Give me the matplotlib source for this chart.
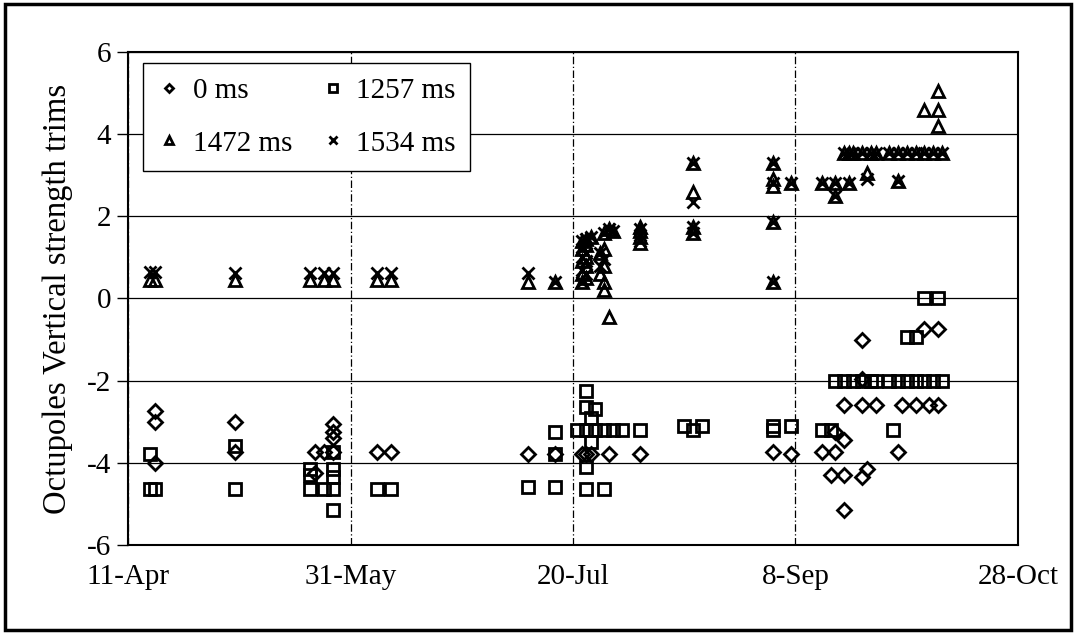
import matplotlib.pyplot as plt
import matplotlib.patches as mpatches
import pandas as pd

plt.rcParams['font.family'] = ['Liberation Serif', 'DejaVu Serif']
plt.rcParams['axes.unicode_minus'] = False

# x axis ticks
tick_dates = ['2000-04-11', '2000-05-31', '2000-07-20', '2000-09-08', '2000-10-28']
tick_labels = ['11-Apr', '31-May', '20-Jul', '8-Sep', '28-Oct']

# 0 ms (diamonds)
d0_dates = ['04-17', '04-17', '04-17', '05-05', '05-05', '05-23', '05-23', '05-25',
            '05-27', '05-27', '05-27', '05-27', '06-06', '06-09', '07-10', '07-16',
            '07-22', '07-23', '07-24', '07-28', '08-04', '09-03', '09-07',
            '09-14', '09-17', '09-17', '09-19', '09-16', '09-19', '09-19',
            '09-23', '09-23', '09-19', '09-23', '09-26', '09-24', '09-23',
            '10-01', '10-02', '10-05', '10-08', '10-10', '10-07', '10-10']
d0_vals = [-2.75, -3.0, -4.0, -3.0, -3.75, -3.75, -4.25, -3.75,
           -3.05, -3.25, -3.4, -3.75, -3.75, -3.75, -3.8, -3.8,
           -3.8, -3.8, -3.8, -3.8, -3.8, -3.75, -3.8,
           -3.75, -3.75, -3.25, -3.45, -4.3, -4.3, -5.15,
           -1.0, -1.95, -2.6, -2.6, -2.6, -4.15, -4.35,
           -3.75, -2.6, -2.6, -2.6, -2.6, -0.75, -0.75]

# 1257 ms (squares)
d1257_dates = ['04-16', '04-16', '04-17', '05-05', '05-05', '05-22', '05-22', '05-22',
               '05-25', '05-27', '05-27', '05-27', '05-27', '05-27', '06-06', '06-09',
               '07-10', '07-16', '07-16', '07-16', '07-23', '07-23', '07-25', '07-24',
               '07-21', '07-23', '07-25', '07-27', '07-29', '07-31', '07-24', '07-23',
               '07-23', '07-27', '08-04', '08-14', '08-16', '08-18', '09-03', '09-03',
               '09-07', '09-14', '09-16', '09-17', '09-19', '09-21', '09-23', '09-25',
               '09-26', '09-29', '10-01', '10-03', '10-05', '10-07', '10-09', '10-11',
               '09-30', '10-03', '10-05', '10-07', '10-10']
d1257_vals = [-3.8, -4.65, -4.65, -3.6, -4.65, -4.15, -4.3, -4.65,
              -4.65, -3.75, -4.15, -4.35, -4.65, -5.15, -4.65, -4.65,
              -4.6, -3.25, -3.8, -4.6, -2.25, -2.65, -2.7, -2.9,
              -3.2, -3.2, -3.2, -3.2, -3.2, -3.2, -3.5, -4.1,
              -4.65, -4.65, -3.2, -3.1, -3.2, -3.1, -3.1, -3.2,
              -3.1, -3.2, -3.2, -2.0, -2.0, -2.0, -2.0, -2.0,
              -2.0, -2.0, -2.0, -2.0, -2.0, -2.0, -2.0, -2.0,
              -3.2, -0.95, -0.95, 0.0, 0.0]

# 1472 ms (triangles)
d1472_dates = ['04-16', '04-17', '05-05', '05-22', '05-25', '05-27', '06-06', '06-09',
               '07-10', '07-16', '07-22', '07-22', '07-22', '07-22', '07-22',
               '07-23', '07-23', '07-23', '07-23', '07-23', '07-24', '07-26', '07-26',
               '07-27', '07-27', '07-27', '07-27', '07-27', '07-28', '07-28', '07-29',
               '08-04', '08-04', '08-04', '08-04', '08-16', '08-16', '08-16', '08-16',
               '09-03', '09-03', '09-03', '09-03', '09-03', '09-07', '09-14', '09-17',
               '09-17', '09-20', '09-19', '09-20', '09-21', '09-23', '09-25', '09-26',
               '09-29', '10-01', '10-03', '10-05', '10-07', '10-09', '10-11',
               '09-24', '10-01', '10-10', '10-10', '10-10', '10-07']
d1472_vals = [0.45, 0.45, 0.45, 0.45, 0.45, 0.45, 0.45, 0.45,
              0.4, 0.4, 0.4, 0.6, 0.9, 1.2, 1.4,
              0.5, 0.8, 1.0, 1.3, 1.45, 1.5, 0.6, 1.1,
              0.2, 0.4, 0.8, 1.2, 1.6, -0.45, 1.7, 1.65,
              1.35, 1.5, 1.65, 1.75, 1.6, 1.75, 2.6, 3.3,
              0.4, 1.85, 2.75, 2.9, 3.3, 2.8, 2.8, 2.5,
              2.8, 2.8, 3.55, 3.55, 3.55, 3.55, 3.55, 3.55,
              3.55, 3.55, 3.55, 3.55, 3.55, 3.55, 3.55,
              3.05, 2.85, 5.05, 4.6, 4.2, 4.6]

# 1534 ms (crosses)
d1534_dates = ['04-16', '04-17', '05-05', '05-22', '05-25', '05-27', '06-06', '06-09',
               '07-10', '07-16', '07-22', '07-22', '07-22', '07-22', '07-22',
               '07-23', '07-23', '07-23', '07-23', '07-24', '07-26', '07-26',
               '07-27', '07-27', '07-28', '07-29',
               '08-04', '08-04', '08-04', '08-16', '08-16', '08-16', '08-16',
               '09-03', '09-03', '09-03', '09-03', '09-07', '09-14', '09-17',
               '09-17', '09-20', '09-19', '09-20', '09-21', '09-23', '09-25', '09-26',
               '09-29', '10-01', '10-03', '10-05', '10-07', '10-09', '10-11',
               '09-24', '10-01']
d1534_vals = [0.65, 0.65, 0.62, 0.62, 0.62, 0.62, 0.62, 0.62,
              0.62, 0.4, 0.4, 0.7, 1.0, 1.2, 1.4,
              0.6, 0.9, 1.1, 1.45, 1.5, 0.8, 1.1,
              0.95, 1.6, 1.7, 1.65,
              1.4, 1.55, 1.7, 1.6, 1.75, 2.35, 3.3,
              0.4, 1.85, 2.8, 3.3, 2.8, 2.8, 2.5,
              2.8, 2.8, 3.55, 3.55, 3.55, 3.55, 3.55, 3.55,
              3.55, 3.55, 3.55, 3.55, 3.55, 3.55, 3.55,
              2.9, 2.85]

series = [
    ('0 ms', d0_dates, d0_vals, 'D', 7),
    ('1257 ms', d1257_dates, d1257_vals, 's', 8.5),
    ('1472 ms', d1472_dates, d1472_vals, '^', 9),
    ('1534 ms', d1534_dates, d1534_vals, 'x', 8.5),
]

fig = plt.figure(figsize=(10.76, 6.35), dpi=100)
ax = fig.add_axes([0.119, 0.142, 0.827, 0.776])

handles = []
for name, dates, vals, mk, ms in series:
    x = pd.to_datetime(['2000-' + d for d in dates])
    h, = ax.plot(x, vals, linestyle='none', marker=mk, markersize=ms,
                 markerfacecolor='none', markeredgecolor='black',
                 markeredgewidth=2.0, label=name)
    handles.append(h)

ax.set_xlim(pd.Timestamp(tick_dates[0]), pd.Timestamp(tick_dates[-1]))
ax.set_xticks(pd.to_datetime(tick_dates))
ax.set_xticklabels(tick_labels)
ax.set_ylim(-6, 6)
ax.set_yticks(range(-6, 7, 2))

ax.yaxis.grid(True, color='black', linewidth=0.9)
ax.xaxis.grid(True, color='black', linewidth=0.9, linestyle=(0, (6, 2, 1, 2)))
ax.set_axisbelow(True)

for s in ax.spines.values():
    s.set_linewidth(1.5)
    s.set_color('black')

ax.tick_params(axis='y', direction='out', length=8, width=1, labelsize=21, pad=4)
ax.tick_params(axis='x', length=0, labelsize=21, pad=14)
ax.set_ylabel('Octupoles Vertical strength trims', fontsize=23.5, labelpad=10)

# two columns, filled row by row like the original
order = [0, 2, 1, 3]
leg = ax.legend([handles[i] for i in order], [series[i][0] for i in order],
                loc='upper left', bbox_to_anchor=(0.017, 0.978), borderaxespad=0,
                ncol=2, fontsize=21, markerscale=0.65, handlelength=0.8,
                handletextpad=0.4, columnspacing=1.0, labelspacing=0.9,
                fancybox=False, edgecolor='black', framealpha=1,
                borderpad=0.5)
leg.get_frame().set_linewidth(1.0)

# outer border of the picture
fig.patches.append(mpatches.Rectangle((0.005, 0.008), 0.99, 0.985, transform=fig.transFigure,
                                      fill=False, edgecolor='black', linewidth=2.5))

fig.savefig('out.png', dpi=100)
